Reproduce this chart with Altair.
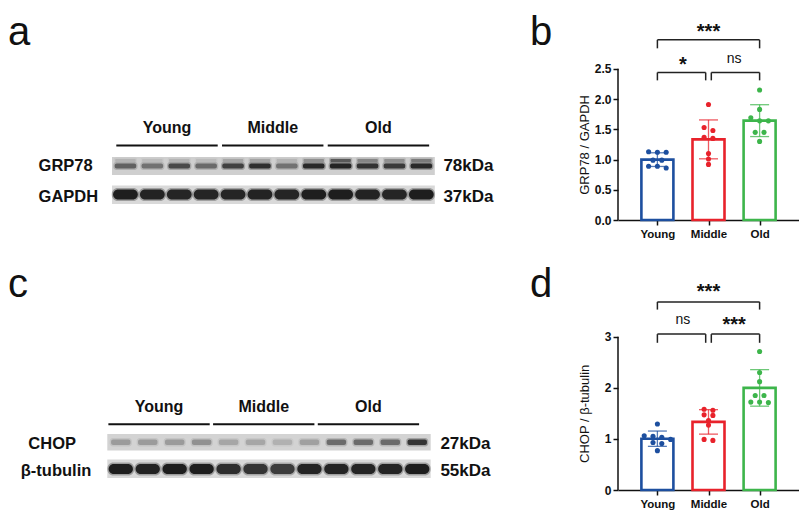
import altair as alt
import pandas as pd

FONT = "Liberation Sans"
INK = "#111111"

# ---------------- data ----------------
groups = ["Young", "Middle", "Old"]
group_colors = ["#1d4f9f", "#e8222b", "#3db54b"]

grp78_young = [1.13, 1.12, 1.12, 0.99, 0.99, 0.89, 0.89, 0.86]
grp78_middle = [1.91, 1.53, 1.48, 1.37, 1.35, 1.10, 1.01, 0.92]
grp78_old = [2.15, 1.83, 1.69, 1.64, 1.64, 1.45, 1.45, 1.30]

chop_young = [1.29, 1.06, 1.05, 1.03, 0.99, 0.93, 0.91, 0.77]
chop_middle = [1.58, 1.56, 1.47, 1.46, 1.36, 1.27, 0.99, 0.97]
chop_old = [2.71, 2.30, 2.12, 1.85, 1.85, 1.72, 1.72, 1.71]

sig_pairs = [[0, 2], [0, 1], [1, 2]]
grp78_sig_labels = ["***", "*", "ns"]
grp78_sig_level = [2.98, 2.44, 2.44]
grp78_sig_leg = [2.84, 2.31, 2.31]
grp78_sig_text = [3.16, 2.62, 2.63]
chop_sig_labels = ["***", "ns", "***"]
chop_sig_level = [3.68, 3.05, 3.05]
chop_sig_leg = [3.53, 2.88, 2.88]
chop_sig_text = [3.93, 3.29, 3.29]

grp78_ticks = [0, 0.5, 1.0, 1.5, 2.0, 2.5]
chop_ticks = [0, 1, 2, 3]

# western blot lanes (relative band intensity)
lanes = list(range(1, 13))
grp78_band = [0.55, 0.45, 0.7, 0.5, 0.75, 0.88, 0.45, 0.92, 0.95, 0.85, 0.8, 0.92]
grp78_upper = [0.12, 0.08, 0.12, 0.08, 0.18, 0.2, 0.12, 0.3, 0.6, 0.35, 0.3, 0.4]
gapdh_band = [1.0, 0.97, 0.95, 0.95, 0.95, 0.97, 0.95, 1.0, 1.0, 0.97, 0.95, 1.0]
chop_band = [0.25, 0.25, 0.25, 0.3, 0.2, 0.2, 0.15, 0.22, 0.5, 0.5, 0.5, 0.85]
tub_band = [1.0, 0.97, 1.0, 1.0, 0.9, 0.85, 0.8, 0.95, 0.95, 0.95, 0.95, 1.0]

# ---------------- layout ----------------
W_BLOT = 522
W_BAR = 181
H1 = 212
H2 = 230
XDOM = [-0.673, 2.673]
YMAX_B = 3.507
YMAX_D = 4.50
LETTER_SIZE = 40
LETTER_BASE = 36.5
STAR_SIZE = 20
NS_SIZE = 14


def txt(df, x, y, xs, ys, size, weight="bold", align="left", baseline="middle", dy=0):
    return alt.Chart(df).mark_text(
        font=FONT, fontSize=size, fontWeight=weight, align=align,
        baseline=baseline, color=INK, dy=dy
    ).encode(
        x=alt.X(f"{x}:Q", scale=xs, axis=None),
        y=alt.Y(f"{y}:Q", scale=ys, axis=None),
        text="t:N",
    )


def band_layer(inten, center, half_h, half_w, xs, ys, radius, factor=1.0):
    df = pd.DataFrame({"lane": lanes, "inten": inten})
    return alt.Chart(df).transform_calculate(
        x1=f"datum.lane - {half_w}", x2=f"datum.lane + {half_w}",
        y1=f"{center - half_h}", y2=f"{center + half_h}",
        op=f"datum.inten * {factor}",
    ).mark_rect(color="#141414", cornerRadius=radius).encode(
        x=alt.X("x1:Q", scale=xs, axis=None), x2="x2:Q",
        y=alt.Y("y1:Q", scale=ys, axis=None), y2="y2:Q",
        opacity=alt.Opacity("op:Q", scale=None, legend=None),
    )


def blot_panel(letter, udom, H, rows):
    xs = alt.Scale(domain=udom, nice=False, zero=False)
    ys = alt.Scale(domain=[0, H], reverse=True, nice=False, zero=False)
    layers = []
    # letter
    layers.append(txt(pd.DataFrame({"t": [letter], "u": [udom[0]], "y": [LETTER_BASE]}),
                      "u", "y", xs, ys, LETTER_SIZE, weight="normal", baseline="alphabetic"))
    # group lines and labels
    s0, step, span = rows["lines"]
    starts = [s0 + step * g for g in range(3)]
    ldf = pd.DataFrame({"a": starts, "b": [s + span for s in starts],
                        "y": [rows["line_y"]] * 3,
                        "c": [s + span / 2 for s in starts], "ty": [rows["group_y"]] * 3,
                        "t": groups})
    layers.append(alt.Chart(ldf).mark_rule(color=INK, strokeWidth=2).encode(
        x=alt.X("a:Q", scale=xs, axis=None), x2="b:Q", y=alt.Y("y:Q", scale=ys, axis=None)))
    layers.append(txt(ldf, "c", "ty", xs, ys, 16, align="center"))
    # strips
    for st in rows["strips"]:
        sdf = pd.DataFrame({"a": [0.5], "b": [12.5], "y1": [st["top"]], "y2": [st["bot"]]})
        layers.append(alt.Chart(sdf).mark_rect(color=st["bg"]).encode(
            x=alt.X("a:Q", scale=xs, axis=None), x2="b:Q",
            y=alt.Y("y1:Q", scale=ys, axis=None), y2="y2:Q"))
        for bd in st["bands"]:
            inten, c, hh, hw, r = bd
            layers.append(band_layer(inten, c, hh + 1.5, hw + 0.05, xs, ys, r + 1, 0.3))
            layers.append(band_layer(inten, c, hh, hw, xs, ys, r, 0.92))
        layers.append(txt(pd.DataFrame({"t": [st["label"]], "u": [st["label_u"]], "y": [st["label_y"]]}),
                          "u", "y", xs, ys, 16.5, align=st["label_align"]))
        layers.append(txt(pd.DataFrame({"t": [st["kda"]], "u": [st["kda_u"]], "y": [st["label_y"]]}),
                          "u", "y", xs, ys, 17))
    return alt.layer(*layers).properties(width=W_BLOT, height=H)


def swarm(vals, ppu_y, spacing_u, thr_px=4.5):
    order = sorted(range(len(vals)), key=lambda i: -vals[i])
    offs = [0.0] * len(vals)
    clusters = []
    for i in order:
        if clusters and vals[clusters[-1][0]] - vals[i] < thr_px / ppu_y:
            clusters[-1].append(i)
        else:
            clusters.append([i])
    for c in clusters:
        n = len(c)
        for k, i in enumerate(c):
            offs[i] = (k - (n - 1) / 2) * spacing_u
    return offs


def bar_panel(letter, series, H, ymax, ticks, fmt, title, labels, level, leg, tpos):
    ppu = H / ymax
    rows = []
    for gi, (g, vals) in enumerate(zip(groups, series)):
        offs = swarm(vals, ppu, 9.3 / (W_BAR / (XDOM[1] - XDOM[0])))
        for v, o in zip(vals, offs):
            rows.append({"group": g, "idx": gi, "val": v, "xj": gi + o})
    df = pd.DataFrame(rows)
    xs = alt.Scale(domain=XDOM, nice=False, zero=False)
    ys = alt.Scale(domain=[0, ymax], nice=False, zero=False)
    cs = alt.Scale(domain=groups, range=group_colors)
    top = ticks[-1]
    xaxis = alt.Axis(values=[0, 1, 2], labelExpr="['Young','Middle','Old'][datum.value]",
                     title=None, grid=False, domainColor=INK, domainWidth=1.5,
                     tickColor=INK, tickWidth=1.5, tickSize=5, labelPadding=3,
                     labelFontSize=11.5, labelFontWeight="bold", labelColor=INK, labelFont=FONT)
    yaxis = alt.Axis(values=ticks, format=fmt, title=title, grid=False, domain=False,
                     tickColor=INK, tickWidth=1.5, tickSize=5, labelPadding=2,
                     labelFontSize=12, labelFontWeight="bold", labelColor=INK, labelFont=FONT,
                     titleFont=FONT, titleFontSize=13, titleFontWeight="normal", titleColor=INK,
                     titleAngle=270, titleAlign="center", titleBaseline="bottom",
                     titleX=-27, titleY=H - top / 2 * ppu)
    X = lambda f: alt.X(f, scale=xs, axis=xaxis)
    Y = lambda f: alt.Y(f, scale=ys, axis=yaxis)
    bars = alt.Chart(df).mark_bar(size=32, fill="white", strokeWidth=2.6).encode(
        x=X("idx:Q"), y=Y("mean(val):Q"),
        stroke=alt.Stroke("group:N", scale=cs, legend=None),
    )
    ebar = alt.Chart(df).mark_errorbar(extent="stdev", ticks=True, orient="vertical",
                                       thickness=1.3, size=19, opacity=0.75).encode(
        x=X("idx:Q"), y=Y("val:Q"),
        color=alt.Color("group:N", scale=cs, legend=None),
    )
    pts = alt.Chart(df).mark_circle(size=26, opacity=1).encode(
        x=X("xj:Q"), y=Y("val:Q"),
        color=alt.Color("group:N", scale=cs, legend=None),
    )
    ydom = alt.Chart(pd.DataFrame({"a": [0], "b": [top]})).mark_rule(
        color=INK, strokeWidth=1.5).encode(
        x=alt.value(0), y=Y("a:Q"), y2="b:Q")
    # brackets
    hl, lg, tl = [], [], []
    for (i, j), lab, lv, lgv, tp in zip(sig_pairs, labels, level, leg, tpos):
        inner = 0.055 if j - i == 1 else 0.0
        x1 = i + (inner if i == 1 else 0.0)
        x2 = j - (inner if j == 1 else 0.0)
        hl.append({"x1": x1, "x2": x2, "y": lv})
        lg.append({"x": x1, "y": lv, "y2": lgv})
        lg.append({"x": x2, "y": lv, "y2": lgv})
        tl.append({"x": (i + j) / 2, "y": tp, "t": lab, "star": lab.startswith("*")})
    hdf, ldf, tdf = pd.DataFrame(hl), pd.DataFrame(lg), pd.DataFrame(tl)
    hrule = alt.Chart(hdf).mark_rule(color="#222222", strokeWidth=1.5).encode(
        x=X("x1:Q"), x2="x2:Q", y=Y("y:Q"))
    vrule = alt.Chart(ldf).mark_rule(color="#222222", strokeWidth=1.5).encode(
        x=X("x:Q"), y=Y("y:Q"), y2="y2:Q")
    stars = alt.Chart(tdf[tdf.star]).mark_text(
        font=FONT, fontSize=STAR_SIZE, fontWeight="bold", baseline="alphabetic",
        dy=0.45 * STAR_SIZE, color=INK).encode(
        x=X("x:Q"), y=Y("y:Q"), text="t:N")
    ns = alt.Chart(tdf[~tdf.star]).mark_text(
        font=FONT, fontSize=NS_SIZE, baseline="alphabetic", dy=2, color=INK).encode(
        x=X("x:Q"), y=Y("y:Q"), text="t:N")
    let = alt.Chart(pd.DataFrame({"t": [letter]})).mark_text(
        font=FONT, fontSize=LETTER_SIZE, align="left", baseline="alphabetic", color=INK).encode(
        x=alt.value(-88), y=alt.value(LETTER_BASE), text="t:N")
    return alt.layer(bars, ebar, pts, ydom, hrule, vrule, stars, ns, let).properties(
        width=W_BAR, height=H)


rows_a = {
    "group_y": 120, "line_y": 137.5,
    "lines": (0.66, 3.93, 3.77),
    "strips": [
        {"top": 149, "bot": 167, "bg": "#cfcfcf",
         "bands": [(grp78_band, 158, 2.5, 0.4, 2), (grp78_upper, 152.5, 1.5, 0.38, 1)],
         "label": "GRP78", "label_u": -2.23, "label_align": "left", "label_y": 158,
         "kda": "78kDa", "kda_u": 12.82},
        {"top": 177.5, "bot": 196, "bg": "#d9d9d9",
         "bands": [(gapdh_band, 186.5, 5, 0.46, 5)],
         "label": "GAPDH", "label_u": -2.23, "label_align": "left", "label_y": 188.5,
         "kda": "37kDa", "kda_u": 12.82},
    ],
}
rows_c = {
    "group_y": 146.8, "line_y": 164.3,
    "lines": (0.54, 3.885, 3.76),
    "strips": [
        {"top": 174, "bot": 190.5, "bg": "#d3d3d3",
         "bands": [(chop_band, 182.3, 2.8, 0.36, 2)],
         "label": "CHOP", "label_u": -1.545, "label_align": "center", "label_y": 183.5,
         "kda": "27kDa", "kda_u": 12.86},
        {"top": 199.4, "bot": 218, "bg": "#d9d9d9",
         "bands": [(tub_band, 209, 5, 0.45, 5)],
         "label": "β-tubulin", "label_u": -2.71, "label_align": "left", "label_y": 211,
         "kda": "55kDa", "kda_u": 12.86},
    ],
}

blot_a = blot_panel("a", [-3.366, 16.039], H1, rows_a)
blot_c = blot_panel("c", [-3.185, 16.185], H2, rows_c)

bar_b = bar_panel("b", [grp78_young, grp78_middle, grp78_old], H1, YMAX_B, grp78_ticks, ".1f",
                  "GRP78 / GAPDH", grp78_sig_labels, grp78_sig_level, grp78_sig_leg, grp78_sig_text)
bar_d = bar_panel("d", [chop_young, chop_middle, chop_old], H2, YMAX_D, chop_ticks, "d",
                  "CHOP / β-tubulin", chop_sig_labels, chop_sig_level, chop_sig_leg, chop_sig_text)

row1 = alt.hconcat(blot_a, bar_b, spacing=0)
row2 = alt.hconcat(blot_c, bar_d, spacing=0)
chart = alt.vconcat(row1, row2, spacing=20).properties(padding=0).configure_view(
    stroke=None).configure_text(font=FONT)

chart.save("out.html", embed_options={"renderer": "svg", "actions": False})
